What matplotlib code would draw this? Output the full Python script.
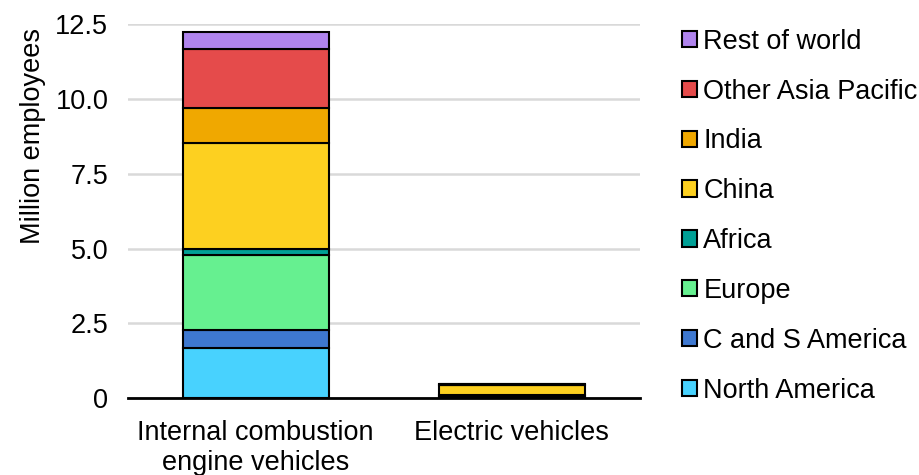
import numpy as np
import matplotlib.pyplot as plt
from matplotlib.ticker import FuncFormatter

plt.rcParams['font.family'] = ['Liberation Sans', 'DejaVu Sans']

categories = ['Internal combustion\nengine vehicles', 'Electric vehicles']
regions = ['North America', 'C and S America', 'Europe', 'Africa',
           'China', 'India', 'Other Asia Pacific', 'Rest of world']
north_america = [1.68, 0.03]
c_s_america = [0.59, 0.005]
europe = [2.52, 0.06]
africa = [0.18, 0.005]
china = [3.55, 0.32]
india = [1.17, 0.01]
other_asia = [1.97, 0.03]
rest_world = [0.57, 0.01]
colors = ['#48d2fe', '#3e78d0', '#66f090', '#00a096',
          '#fdd020', '#f0a800', '#e54b4b', '#b084ee']

series = [north_america, c_s_america, europe, africa, china, india, other_asia, rest_world]
fs = 19.5

fig = plt.figure(figsize=(9.19, 4.75), dpi=100)
ax = fig.add_axes([0.139, 0.162, 0.557, 0.787])

x = np.arange(len(categories))
bottom = np.zeros(len(categories))
handles = []
for vals, name, c in zip(series, regions, colors):
    b = ax.bar(x, vals, 0.57, bottom=bottom, color=c, edgecolor='black',
               linewidth=1.5, label=name, zorder=3)
    bottom += np.array(vals)
    handles.append(b)

ax.set_xlim(-0.5, 1.5)
ax.set_ylim(0, 12.5)
ax.set_yticks([0, 2.5, 5, 7.5, 10, 12.5])
ax.yaxis.set_major_formatter(FuncFormatter(lambda v, p: '0' if v == 0 else f'{v:.1f}'))
ax.set_xticks(x)
ax.set_xticklabels(categories, fontsize=fs)
ax.tick_params(axis='y', labelsize=fs, length=0, pad=14)
ax.tick_params(axis='x', length=0, pad=16)
ax.grid(axis='y', color='#d9d9d9', linewidth=1.8, zorder=0)
for s in ['top', 'right', 'left']:
    ax.spines[s].set_visible(False)
ax.spines['bottom'].set_linewidth(2)
ax.spines['bottom'].set_zorder(4)
ax.set_ylabel('Million employees', fontsize=fs)
ax.yaxis.set_label_coords(-0.16, 0.70)

ax.legend(handles[::-1], regions[::-1], loc='upper left', bbox_to_anchor=(1.061, 1.017),
          frameon=False, fontsize=fs, handlelength=0.55, handleheight=0.55,
          handletextpad=0.25, labelspacing=0.88, borderaxespad=0)

fig.savefig('out.png', dpi=100)
